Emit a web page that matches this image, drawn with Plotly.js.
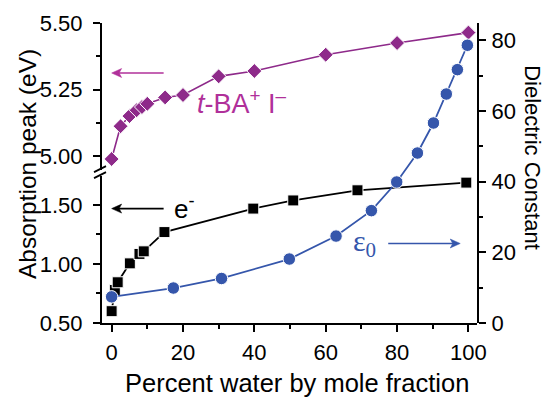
<!DOCTYPE html>
<html>
<head>
<meta charset="utf-8">
<script src="https://cdn.plot.ly/plotly-3.0.1.min.js"></script>
<style>html,body{margin:0;padding:0;background:#fff;}#chart{width:549px;height:397px;}</style>
</head>
<body>
<div id="chart"></div>
<script>
// Data
const tbaWater = [0, 2.5, 5, 7, 8.5, 10, 15, 20, 30, 40, 60, 80, 100];
const tbaPeak  = [4.99, 5.113, 5.151, 5.173, 5.185, 5.197, 5.221, 5.23, 5.30, 5.32, 5.381, 5.425, 5.464];

const eWater = [0, 0.9, 1.7, 5.1, 7.8, 9, 14.8, 39.7, 50.9, 68.9, 99.4];
const ePeak  = [0.60, 0.78, 0.845, 1.005, 1.085, 1.107, 1.27, 1.469, 1.538, 1.624, 1.689];

const epsWater = [0, 17.3, 30.8, 49.8, 62.9, 72.8, 79.9, 85.7, 90.2, 93.8, 96.9, 99.7];
const epsValue = [7.4, 9.9, 12.6, 18.1, 24.6, 31.8, 39.9, 48.1, 56.6, 64.8, 71.7, 78.6];

const xTitle = 'Percent water by mole fraction';
const yLeftTitle = 'Absorption peak (eV)';
const yRightTitle = 'Dielectric Constant';

const SANS = 'Liberation Sans, Arial, sans-serif';
const SERIF = 'Liberation Serif, Times New Roman, serif';
const PURPLE = '#8e2a8a';
const MAGENTA = '#b0309a';
const BLUE = '#3556ab';

const traces = [
  {x: tbaWater, y: tbaPeak, xaxis: 'x', yaxis: 'y2', mode: 'lines+markers',
   line: {color: PURPLE, width: 1.6},
   marker: {symbol: 'diamond', size: 11.5, color: PURPLE, line: {color: '#fff', width: 1}}},
  {x: eWater, y: ePeak, xaxis: 'x', yaxis: 'y', mode: 'lines+markers',
   line: {color: '#000', width: 1.8},
   marker: {symbol: 'square', size: 11, color: '#000', line: {color: '#fff', width: 1}}},
  {x: epsWater, y: epsValue, xaxis: 'x', yaxis: 'y3', mode: 'lines+markers',
   line: {color: BLUE, width: 1.8},
   marker: {symbol: 'circle', size: 12.5, color: BLUE, line: {color: '#fff', width: 1}}}
];

const axBase = {showline: true, linecolor: '#000', linewidth: 2, showgrid: false, zeroline: false,
  tickcolor: '#000', tickwidth: 2, ticklen: 7, ticks: 'outside',
  tickfont: {family: SANS, size: 22, color: '#000'}};
const minorOut = (d) => ({dtick: d, ticklen: 4, tickwidth: 2, tickcolor: '#000', ticks: 'outside'});

// arrow = shaft line + notched head, sized in pixels, anchored at the arrow tip
function arrow(xa, ya, yref, lenPx, color) {
  const dir = lenPx > 0 ? 1 : -1;   // +1: tail to the right of tip (points left)
  const head = dir > 0 ? 'M0,0 L10,4.5 L7.5,0 L10,-4.5 Z' : 'M0,0 L-10,4.5 L-7.5,0 L-10,-4.5 Z';
  return [
    {type: 'line', xref: 'x', yref: yref, xsizemode: 'pixel', xanchor: xa,
     x0: 4 * dir, x1: lenPx, y0: ya, y1: ya, line: {color: color, width: 1.6}},
    {type: 'path', xref: 'x', yref: yref, xsizemode: 'pixel', ysizemode: 'pixel',
     xanchor: xa, yanchor: ya, path: head, fillcolor: color, line: {color: color, width: 0.5}}
  ];
}

const layout = {
  width: 549, height: 397,
  margin: {l: 102, r: 72, t: 23, b: 74},
  paper_bgcolor: '#fff', plot_bgcolor: 'rgba(0,0,0,0)',
  showlegend: false,
  xaxis: Object.assign({}, axBase, {domain: [0, 1], range: [-2.7, 102.4], anchor: 'y',
    tick0: 0, dtick: 20, ticklabelstandoff: 2, minor: minorOut(10)}),
  xaxis2: Object.assign({}, axBase, {overlaying: 'x', side: 'top', anchor: 'y2', range: [-2.7, 102.4],
    tick0: 0, dtick: 20, ticks: 'inside', showticklabels: false,
    minor: {dtick: 10, ticklen: 4, tickwidth: 2, tickcolor: '#000', ticks: 'inside'}}),
  yaxis: Object.assign({}, axBase, {domain: [0, 0.49], range: [0.5, 1.745], anchor: 'x',
    tick0: 0.5, dtick: 0.5, tickformat: '.2f', ticklabelstandoff: 6, minor: minorOut(0.25)}),
  yaxis2: Object.assign({}, axBase, {domain: [0.511, 1], range: [4.95, 5.5], anchor: 'x',
    tick0: 5, dtick: 0.25, tickformat: '.2f', ticklabelstandoff: 6, minor: minorOut(0.125)}),
  yaxis3: Object.assign({}, axBase, {domain: [0, 1], range: [0, 84.9], anchor: 'x', side: 'right',
    tick0: 0, dtick: 20, ticklabelstandoff: 1, minor: minorOut(10)}),
  shapes: [
    // axis break marks
    {type: 'line', xref: 'paper', yref: 'paper', x0: -0.0213, x1: 0.0107, y0: 0.503, y1: 0.523,
     line: {color: '#000', width: 1.8}},
    {type: 'line', xref: 'paper', yref: 'paper', x0: -0.0213, x1: 0.0107, y0: 0.483, y1: 0.503,
     line: {color: '#000', width: 1.8}}
  ].concat(
    arrow(0, 5.3125, 'y2', 52, MAGENTA),
    arrow(0, 1.469, 'y', 52, '#000'),
    arrow(97.7, 22.5, 'y3', -72, BLUE)
  ),
  annotations: [
    {text: xTitle, xref: 'paper', yref: 'paper', x: 0.519, y: -0.2, xanchor: 'center', yanchor: 'middle',
     showarrow: false, font: {family: SANS, size: 25.5, color: '#000'}},
    {text: yLeftTitle, xref: 'paper', yref: 'paper', x: -0.2, y: 0.53, xanchor: 'center', yanchor: 'middle',
     textangle: -90, showarrow: false, font: {family: SANS, size: 24.5, color: '#000'}},
    {text: yRightTitle, xref: 'paper', yref: 'paper', x: 1.149, y: 0.55, xanchor: 'center', yanchor: 'middle',
     textangle: 90, showarrow: false, font: {family: SANS, size: 22, color: '#000'}},
    // series labels
    {text: '<i>t</i>-BA<sup>+</sup> I<sup>\u2013</sup>', xref: 'x', yref: 'y2', x: 23.4, y: 5.205,
     xanchor: 'left', yanchor: 'middle', showarrow: false, font: {family: SANS, size: 27, color: MAGENTA}},
    {text: 'e<sup>-</sup>', xref: 'x', yref: 'y', x: 16.8, y: 1.475,
     xanchor: 'left', yanchor: 'middle', showarrow: false, font: {family: SANS, size: 26, color: '#000'}},
    {text: '\u03b5<sub>0</sub>', xref: 'x', yref: 'y3', x: 67.0, y: 22.6,
     xanchor: 'left', yanchor: 'middle', showarrow: false, font: {family: SERIF, size: 30, color: BLUE}}
  ]
};

Plotly.newPlot('chart', traces, layout, {displayModeBar: false, staticPlot: true});
</script>
</body>
</html>
